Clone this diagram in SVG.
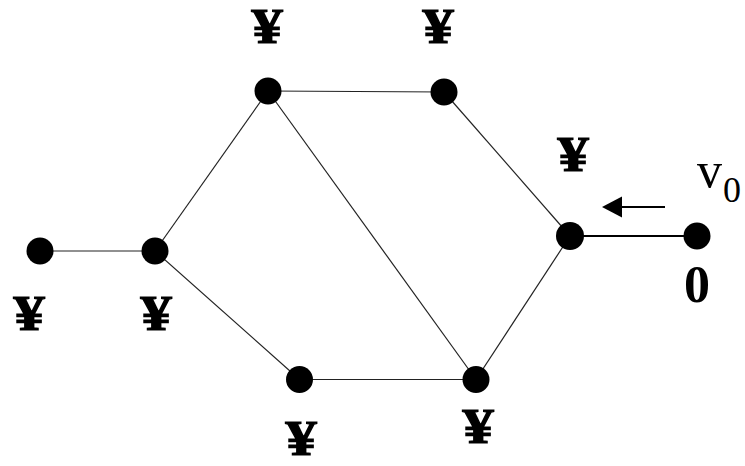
<svg xmlns="http://www.w3.org/2000/svg" width="745" height="466" viewBox="0 0 745 466">
<style>
.edge{stroke:#222;stroke-width:1.2;fill:none}
.node{fill:#000}
.lbl{font-family:"Liberation Serif",serif;font-weight:bold;font-size:52px;text-anchor:middle;fill:#000}
.yen{font-family:"Liberation Serif",serif;font-weight:bold;font-size:50px;text-anchor:middle;fill:#000;stroke:#000;stroke-width:1.2}
.v{font-family:"Liberation Serif",serif;fill:#000}
</style>
<rect width="745" height="466" fill="#fff"/>
<g id="connectors">
<line class="edge" x1="40" y1="251" x2="155" y2="251"/>
<line class="edge" x1="155" y1="251" x2="268" y2="91"/>
<line class="edge" x1="155" y1="251" x2="299.5" y2="379.5"/>
<line class="edge" x1="268" y1="91" x2="444" y2="92"/>
<line class="edge" x1="268" y1="91" x2="476" y2="379.5"/>
<line class="edge" x1="444" y1="92" x2="570" y2="236"/>
<line class="edge" x1="570" y1="236" x2="476" y2="379.5"/>
<line class="edge" x1="299.5" y1="379.5" x2="476" y2="379.5"/>
<line x1="570" y1="236" x2="697" y2="236" stroke="#000" stroke-width="2"/>
<line x1="665" y1="207" x2="620" y2="207" stroke="#000" stroke-width="2"/>
<path d="M602,207 L622,196.5 L622,217.5 Z" fill="#000"/>
</g>
<g id="nA"><circle class="node" cx="40" cy="251" r="13.5"/><text class="yen" transform="translate(29 330) scale(1.25 1)">¥</text></g>
<g id="nB"><circle class="node" cx="155" cy="251" r="13.5"/><text class="yen" transform="translate(156 330) scale(1.25 1)">¥</text></g>
<g id="nC"><circle class="node" cx="268" cy="91" r="13.5"/><text class="yen" transform="translate(267 43) scale(1.25 1)">¥</text></g>
<g id="nD"><circle class="node" cx="444" cy="92" r="13.5"/><text class="yen" transform="translate(438 43) scale(1.25 1)">¥</text></g>
<g id="nE"><circle class="node" cx="570" cy="236" r="14"/><text class="yen" transform="translate(573 171) scale(1.25 1)">¥</text></g>
<g id="nF"><circle class="node" cx="697" cy="236" r="13.5"/><text class="lbl" x="697" y="302">0</text>
<text class="v" x="697" y="187" font-size="50">v</text><text class="v" x="723" y="202" font-size="36">0</text></g>
<g id="nG"><circle class="node" cx="299.5" cy="379.5" r="13.5"/><text class="yen" transform="translate(301 455) scale(1.25 1)">¥</text></g>
<g id="nH"><circle class="node" cx="476" cy="379.5" r="13.5"/><text class="yen" transform="translate(478 443) scale(1.25 1)">¥</text></g>
</svg>
